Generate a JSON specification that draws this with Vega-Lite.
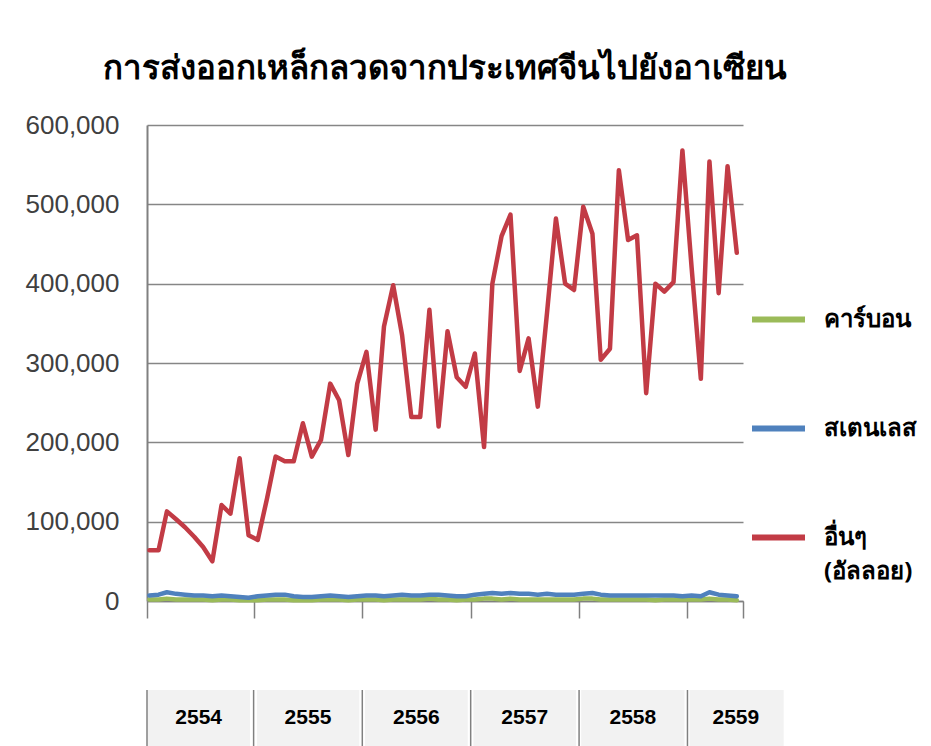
{
  "$schema": "https://vega.github.io/schema/vega-lite/v6.json",
  "background": "white",
  "padding": {"left": 25, "top": 53, "right": 0, "bottom": 0},
  "title": {"text": "การส่งออกเหล็กลวดจากประเทศจีนไปยังอาเซียน", "fontSize": 33, "fontWeight": "bold", "font": "Noto Sans", "color": "#000000", "anchor": "middle", "frame": "group", "offset": 26},
  "datasets": {
    "series": [
      {"date": "2011-01-15", "คาร์บอน": 2000, "สเตนเลส": 7000, "อื่นๆ (อัลลอย)": 64000},
      {"date": "2011-02-15", "คาร์บอน": 2000, "สเตนเลส": 8000, "อื่นๆ (อัลลอย)": 64000},
      {"date": "2011-03-15", "คาร์บอน": 3000, "สเตนเลส": 11000, "อื่นๆ (อัลลอย)": 113000},
      {"date": "2011-04-15", "คาร์บอน": 2000, "สเตนเลส": 9000, "อื่นๆ (อัลลอย)": 103000},
      {"date": "2011-05-15", "คาร์บอน": 2000, "สเตนเลส": 8000, "อื่นๆ (อัลลอย)": 93000},
      {"date": "2011-06-15", "คาร์บอน": 2000, "สเตนเลส": 7000, "อื่นๆ (อัลลอย)": 81000},
      {"date": "2011-07-15", "คาร์บอน": 2000, "สเตนเลส": 7000, "อื่นๆ (อัลลอย)": 68000},
      {"date": "2011-08-15", "คาร์บอน": 1000, "สเตนเลส": 6000, "อื่นๆ (อัลลอย)": 50000},
      {"date": "2011-09-15", "คาร์บอน": 2000, "สเตนเลส": 7000, "อื่นๆ (อัลลอย)": 121000},
      {"date": "2011-10-15", "คาร์บอน": 2000, "สเตนเลส": 6000, "อื่นๆ (อัลลอย)": 110000},
      {"date": "2011-11-15", "คาร์บอน": 1000, "สเตนเลส": 5000, "อื่นๆ (อัลลอย)": 180000},
      {"date": "2011-12-15", "คาร์บอน": 1000, "สเตนเลส": 4000, "อื่นๆ (อัลลอย)": 83000},
      {"date": "2012-01-15", "คาร์บอน": 1000, "สเตนเลส": 6000, "อื่นๆ (อัลลอย)": 77000},
      {"date": "2012-02-15", "คาร์บอน": 2000, "สเตนเลส": 7000, "อื่นๆ (อัลลอย)": 129000},
      {"date": "2012-03-15", "คาร์บอน": 2000, "สเตนเลส": 8000, "อื่นๆ (อัลลอย)": 182000},
      {"date": "2012-04-15", "คาร์บอน": 2000, "สเตนเลส": 8000, "อื่นๆ (อัลลอย)": 176000},
      {"date": "2012-05-15", "คาร์บอน": 1000, "สเตนเลส": 6000, "อื่นๆ (อัลลอย)": 176000},
      {"date": "2012-06-15", "คาร์บอน": 1000, "สเตนเลส": 5000, "อื่นๆ (อัลลอย)": 224000},
      {"date": "2012-07-15", "คาร์บอน": 1000, "สเตนเลส": 5000, "อื่นๆ (อัลลอย)": 182000},
      {"date": "2012-08-15", "คาร์บอน": 2000, "สเตนเลส": 6000, "อื่นๆ (อัลลอย)": 203000},
      {"date": "2012-09-15", "คาร์บอน": 2000, "สเตนเลส": 7000, "อื่นๆ (อัลลอย)": 274000},
      {"date": "2012-10-15", "คาร์บอน": 2000, "สเตนเลส": 6000, "อื่นๆ (อัลลอย)": 253000},
      {"date": "2012-11-15", "คาร์บอน": 1000, "สเตนเลส": 5000, "อื่นๆ (อัลลอย)": 184000},
      {"date": "2012-12-15", "คาร์บอน": 2000, "สเตนเลส": 6000, "อื่นๆ (อัลลอย)": 274000},
      {"date": "2013-01-15", "คาร์บอน": 2000, "สเตนเลส": 7000, "อื่นๆ (อัลลอย)": 314000},
      {"date": "2013-02-15", "คาร์บอน": 2000, "สเตนเลส": 7000, "อื่นๆ (อัลลอย)": 216000},
      {"date": "2013-03-15", "คาร์บอน": 1000, "สเตนเลส": 6000, "อื่นๆ (อัลลอย)": 346000},
      {"date": "2013-04-15", "คาร์บอน": 2000, "สเตนเลส": 7000, "อื่นๆ (อัลลอย)": 398000},
      {"date": "2013-05-15", "คาร์บอน": 2000, "สเตนเลส": 8000, "อื่นๆ (อัลลอย)": 335000},
      {"date": "2013-06-15", "คาร์บอน": 2000, "สเตนเลส": 7000, "อื่นๆ (อัลลอย)": 232000},
      {"date": "2013-07-15", "คาร์บอน": 2000, "สเตนเลส": 7000, "อื่นๆ (อัลลอย)": 232000},
      {"date": "2013-08-15", "คาร์บอน": 3000, "สเตนเลส": 8000, "อื่นๆ (อัลลอย)": 367000},
      {"date": "2013-09-15", "คาร์บอน": 2000, "สเตนเลส": 8000, "อื่นๆ (อัลลอย)": 220000},
      {"date": "2013-10-15", "คาร์บอน": 2000, "สเตนเลส": 7000, "อื่นๆ (อัลลอย)": 340000},
      {"date": "2013-11-15", "คาร์บอน": 1000, "สเตนเลส": 6000, "อื่นๆ (อัลลอย)": 282000},
      {"date": "2013-12-15", "คาร์บอน": 2000, "สเตนเลส": 6000, "อื่นๆ (อัลลอย)": 270000},
      {"date": "2014-01-15", "คาร์บอน": 2000, "สเตนเลส": 8000, "อื่นๆ (อัลลอย)": 312000},
      {"date": "2014-02-15", "คาร์บอน": 3000, "สเตนเลส": 9000, "อื่นๆ (อัลลอย)": 194000},
      {"date": "2014-03-15", "คาร์บอน": 3000, "สเตนเลส": 10000, "อื่นๆ (อัลลอย)": 400000},
      {"date": "2014-04-15", "คาร์บอน": 2000, "สเตนเลส": 9000, "อื่นๆ (อัลลอย)": 460000},
      {"date": "2014-05-15", "คาร์บอน": 3000, "สเตนเลส": 10000, "อื่นๆ (อัลลอย)": 487000},
      {"date": "2014-06-15", "คาร์บอน": 2000, "สเตนเลส": 9000, "อื่นๆ (อัลลอย)": 290000},
      {"date": "2014-07-15", "คาร์บอน": 2000, "สเตนเลส": 9000, "อื่นๆ (อัลลอย)": 331000},
      {"date": "2014-08-15", "คาร์บอน": 2000, "สเตนเลส": 8000, "อื่นๆ (อัลลอย)": 245000},
      {"date": "2014-09-15", "คาร์บอน": 2000, "สเตนเลส": 9000, "อื่นๆ (อัลลอย)": 363000},
      {"date": "2014-10-15", "คาร์บอน": 2000, "สเตนเลส": 8000, "อื่นๆ (อัลลอย)": 482000},
      {"date": "2014-11-15", "คาร์บอน": 2000, "สเตนเลส": 8000, "อื่นๆ (อัลลอย)": 400000},
      {"date": "2014-12-15", "คาร์บอน": 2000, "สเตนเลส": 8000, "อื่นๆ (อัลลอย)": 392000},
      {"date": "2015-01-15", "คาร์บอน": 3000, "สเตนเลส": 9000, "อื่นๆ (อัลลอย)": 497000},
      {"date": "2015-02-15", "คาร์บอน": 3000, "สเตนเลส": 10000, "อื่นๆ (อัลลอย)": 463000},
      {"date": "2015-03-15", "คาร์บอน": 2000, "สเตนเลส": 8000, "อื่นๆ (อัลลอย)": 304000},
      {"date": "2015-04-15", "คาร์บอน": 2000, "สเตนเลส": 7000, "อื่นๆ (อัลลอย)": 318000},
      {"date": "2015-05-15", "คาร์บอน": 2000, "สเตนเลส": 7000, "อื่นๆ (อัลลอย)": 543000},
      {"date": "2015-06-15", "คาร์บอน": 2000, "สเตนเลส": 7000, "อื่นๆ (อัลลอย)": 455000},
      {"date": "2015-07-15", "คาร์บอน": 2000, "สเตนเลส": 7000, "อื่นๆ (อัลลอย)": 461000},
      {"date": "2015-08-15", "คาร์บอน": 2000, "สเตนเลส": 7000, "อื่นๆ (อัลลอย)": 262000},
      {"date": "2015-09-15", "คาร์บอน": 1000, "สเตนเลส": 7000, "อื่นๆ (อัลลอย)": 400000},
      {"date": "2015-10-15", "คาร์บอน": 2000, "สเตนเลส": 7000, "อื่นๆ (อัลลอย)": 390000},
      {"date": "2015-11-15", "คาร์บอน": 2000, "สเตนเลส": 7000, "อื่นๆ (อัลลอย)": 402000},
      {"date": "2015-12-15", "คาร์บอน": 2000, "สเตนเลส": 6000, "อื่นๆ (อัลลอย)": 568000},
      {"date": "2016-01-15", "คาร์บอน": 2000, "สเตนเลส": 7000, "อื่นๆ (อัลลอย)": 420000},
      {"date": "2016-02-15", "คาร์บอน": 2000, "สเตนเลส": 6000, "อื่นๆ (อัลลอย)": 280000},
      {"date": "2016-03-15", "คาร์บอน": 3000, "สเตนเลส": 11000, "อื่นๆ (อัลลอย)": 554000},
      {"date": "2016-04-15", "คาร์บอน": 2000, "สเตนเลส": 8000, "อื่นๆ (อัลลอย)": 388000},
      {"date": "2016-05-15", "คาร์บอน": 2000, "สเตนเลส": 7000, "อื่นๆ (อัลลอย)": 548000},
      {"date": "2016-06-15", "คาร์บอน": 1000, "สเตนเลส": 6000, "อื่นๆ (อัลลอย)": 439000}
    ],
    "years": [
      {"year": "2554", "start": "2011-01-08", "end": "2011-12-20", "mid": "2011-06-30"},
      {"year": "2555", "start": "2012-01-12", "end": "2012-12-22", "mid": "2012-07-02"},
      {"year": "2556", "start": "2013-01-10", "end": "2013-12-22", "mid": "2013-07-02"},
      {"year": "2557", "start": "2014-01-10", "end": "2014-12-22", "mid": "2014-07-02"},
      {"year": "2558", "start": "2015-01-08", "end": "2015-12-22", "mid": "2015-07-01"},
      {"year": "2559", "start": "2016-01-08", "end": "2016-11-20", "mid": "2016-06-12"}
    ],
    "bounds": [
      {"at": "2011-01-07"}, {"at": "2012-01-01"}, {"at": "2013-01-01"}, {"at": "2014-01-01"},
      {"at": "2015-01-01"}, {"at": "2016-01-01"}
    ]
  },
  "spacing": 70,
  "vconcat": [
    {
      "width": 596,
      "height": 476,
      "data": {"name": "series"},
      "transform": [{"fold": ["คาร์บอน", "สเตนเลส", "อื่นๆ (อัลลอย)"], "as": ["type", "value"]}],
      "mark": {"type": "line", "strokeWidth": 4.5, "strokeJoin": "round", "strokeCap": "round"},
      "encoding": {
        "x": {
          "field": "date", "type": "temporal",
          "scale": {"type": "utc", "domain": [{"year": 2011, "month": 1, "date": 7, "utc": true}, {"year": 2016, "month": 7, "date": 6, "utc": true}]},
          "axis": {
            "title": null, "labels": false, "grid": false, "ticks": true, "tickSize": 17,
            "tickColor": "#808080", "tickWidth": 1.5, "domain": true, "domainColor": "#808080", "domainWidth": 1.5,
            "values": [
              {"year": 2011, "month": 1, "date": 7, "utc": true},
              {"year": 2012, "month": 1, "date": 1, "utc": true},
              {"year": 2013, "month": 1, "date": 1, "utc": true},
              {"year": 2014, "month": 1, "date": 1, "utc": true},
              {"year": 2015, "month": 1, "date": 1, "utc": true},
              {"year": 2016, "month": 1, "date": 1, "utc": true},
              {"year": 2016, "month": 7, "date": 6, "utc": true}
            ]
          }
        },
        "y": {
          "field": "value", "type": "quantitative",
          "scale": {"domain": [0, 600000]},
          "axis": {
            "title": null, "values": [0, 100000, 200000, 300000, 400000, 500000, 600000], "format": ",.0f",
            "labelFontSize": 26, "labelFont": "Liberation Sans", "labelColor": "#404040", "labelPadding": 28,
            "ticks": false, "domain": true, "domainColor": "#808080", "domainWidth": 2,
            "grid": true, "gridColor": "#868686", "gridWidth": 1.5
          }
        },
        "color": {
          "field": "type", "type": "nominal",
          "scale": {"domain": ["คาร์บอน", "สเตนเลส", "อื่นๆ (อัลลอย)"], "range": ["#9BBB59", "#4F81BD", "#C23B45"]},
          "legend": {
            "orient": "none", "legendX": 602, "legendY": 165, "title": null,
            "symbolType": "stroke", "symbolSize": 2809, "symbolStrokeWidth": 6,
            "labelFontSize": 24, "labelFontWeight": "bold", "labelFont": "Noto Sans", "labelColor": "#000000",
            "labelOffset": 16, "rowPadding": 67, "labelLimit": 300,
            "labelExpr": "datum.label == 'อื่นๆ (อัลลอย)' ? ['อื่นๆ', '(อัลลอย)'] : datum.label"
          }
        }
      }
    },
    {
      "width": 596,
      "height": 56,
      "layer": [
        {
          "data": {"name": "years"},
          "mark": {"type": "rect", "color": "#F2F2F2", "clip": false},
          "encoding": {
            "x": {"field": "start", "type": "temporal", "scale": {"type": "utc", "domain": [{"year": 2011, "month": 1, "date": 7, "utc": true}, {"year": 2016, "month": 7, "date": 6, "utc": true}]}, "axis": null},
            "x2": {"field": "end"}
          }
        },
        {
          "data": {"name": "bounds"},
          "mark": {"type": "rule", "color": "#808080", "strokeWidth": 1.5},
          "encoding": {
            "x": {"field": "at", "type": "temporal"}
          }
        },
        {
          "data": {"name": "years"},
          "mark": {"type": "text", "fontSize": 21, "fontWeight": "bold", "font": "Liberation Sans", "color": "#000000"},
          "encoding": {
            "x": {"field": "mid", "type": "temporal"},
            "text": {"field": "year"}
          }
        }
      ]
    }
  ],
  "config": {
    "view": {"stroke": null},
    "font": "Noto Sans",
    "style": {"guide-label": {"lineHeight": 34}}
  }
}
